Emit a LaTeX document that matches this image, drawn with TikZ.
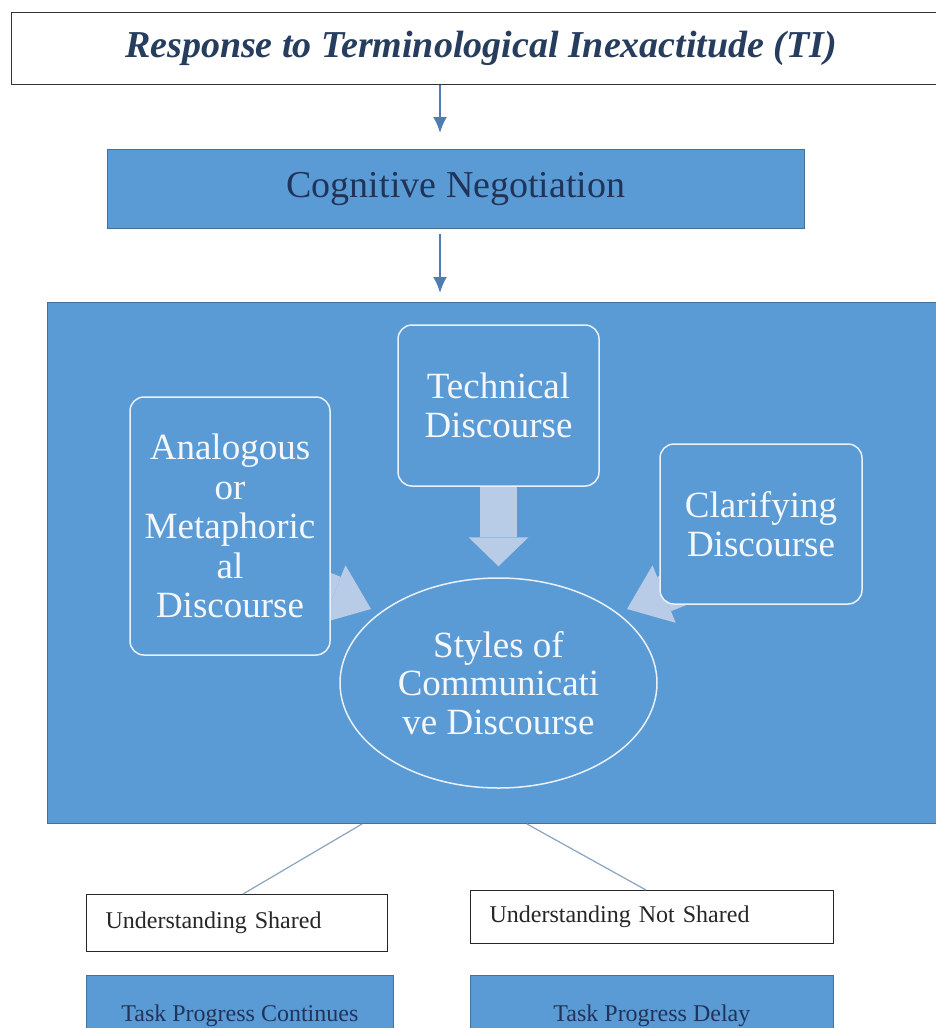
\documentclass[tikz,border=0pt]{standalone}
\usepackage{fontspec}
\setmainfont{Liberation Serif}
\usetikzlibrary{arrows.meta,shapes.geometric,calc,backgrounds}
\definecolor{mblue}{HTML}{5B9BD5}
\definecolor{dblue}{HTML}{41719C}
\definecolor{navy}{HTML}{1F3458}
\definecolor{ttl}{HTML}{263D5E}
\definecolor{larr}{HTML}{B8CBE7}
\definecolor{arrc}{HTML}{4E7CB5}
\definecolor{linec}{HTML}{8BA3C0}
\definecolor{wline}{HTML}{E8F1FB}
\definecolor{wtext}{HTML}{F4F8FD}
\begin{document}
\begin{tikzpicture}[x=1pt,y=-1pt,
  titlebox/.style={draw=black!80, line width=1.3pt, fill=white, inner sep=0pt,
    text=ttl, font=\fontsize{38}{42}\selectfont\bfseries\itshape},
  cogbox/.style={draw=dblue, line width=1pt, fill=mblue, inner sep=0pt,
    text=navy, font=\fontsize{38}{42}\selectfont},
  panelbox/.style={draw=dblue, line width=1pt, fill=mblue, inner sep=0pt},
  wbox/.style={draw=wline, line width=1.5pt, rounded corners=14pt, fill=mblue,
    inner sep=0pt, align=center, text=wtext, font=\fontsize{37}{39.5}\selectfont},
  wellipse/.style={ellipse, draw=wline, line width=1.5pt, fill=mblue,
    inner sep=0pt, align=center, text=wtext, font=\fontsize{37}{38.5}\selectfont},
  outbox/.style={draw=black!85, line width=1.2pt, fill=white, inner ysep=0pt,
    inner xsep=19pt, align=left, text=black!85, font=\fontsize{24}{28}\selectfont},
  taskbox/.style={draw=dblue, line width=0.8pt, fill=mblue, inner sep=0pt,
    text=navy, font=\fontsize{24}{28}\selectfont},
  thinarrow/.style={draw=arrc, line width=2.2pt, -{Latex[length=16pt,width=14pt]}},
  bigarr/.style={draw=larr, line width=37pt,
    -{Triangle[width=60pt,length=29pt,line width=0pt]}},
  sidearr/.style={draw=larr, line width=37pt,
    -{Triangle[width=62pt,length=40pt,line width=0pt]}},
  link/.style={draw=linec, line width=1.2pt}
]
\useasboundingbox (0,0) rectangle (936,1028);
\clip (0,0) rectangle (936,1028);

% title and first step
\node[titlebox, anchor=north west, minimum width=939pt, minimum height=72pt]
  (title) at (11,12) {Response to Terminological Inexactitude (TI)};
\node[cogbox, anchor=north west, minimum width=697pt, minimum height=79pt]
  (cog) at (107,149) {Cognitive Negotiation};

% discourse styles
\node[wbox, minimum width=201pt, minimum height=161pt] (tech) at (498.5,405.5)
  {Technical\\Discourse};
\node[wbox, minimum width=200pt, minimum height=258pt] (analog) at (230,526)
  {Analogous\\or\\Metaphoric\\al\\Discourse};
\node[wbox, minimum width=202pt, minimum height=160pt] (clar) at (761,524)
  {Clarifying\\Discourse};
\node[wellipse, minimum width=317pt, minimum height=210pt] (ell) at (498.5,683)
  {Styles of\\Communicati\\ve Discourse};

% outcomes
\node[outbox, anchor=north west, text width=263pt, minimum height=57pt]
  (us) at (86,894) {Understanding Shared};
\node[outbox, anchor=north west, text width=325pt, minimum height=53pt]
  (uns) at (470,890) {Understanding Not Shared};
\node[taskbox, anchor=north west, minimum width=307pt, minimum height=80pt]
  (tpc) at (86,975) {Task Progress Continues};
\node[taskbox, anchor=north west, minimum width=363pt, minimum height=80pt]
  (tpd) at (470,975) {Task Progress Delay};

\coordinate (ax) at (440,0);
\coordinate (ltip) at (371,609);
\coordinate (rtip) at (627,609);

\begin{scope}[on background layer]
  \node[panelbox, anchor=north west, minimum width=900pt, minimum height=521pt]
    (panel) at (47,302) {};
  \draw[bigarr, shorten >=11pt] (tech.south) -- (ell.north);
  \draw[sidearr] ($(analog.center)+(2,27)$) -- (ltip);
  \draw[sidearr] ($(clar.center)+(5,29)$) -- (rtip);
\end{scope}

% connectors
\draw[thinarrow, shorten >=16pt] (title.south -| ax) -- (cog.north -| ax);
\draw[thinarrow, shorten <=5pt, shorten >=9pt] (cog.south -| ax) -- (panel.north -| ax);
\draw[link] ($(panel.south west)+(315,0)$) -- ($(us.north west)+(157,0)$);
\draw[link] ($(panel.south west)+(480,0)$) -- ($(uns.north west)+(176,0)$);
\end{tikzpicture}
\end{document}
